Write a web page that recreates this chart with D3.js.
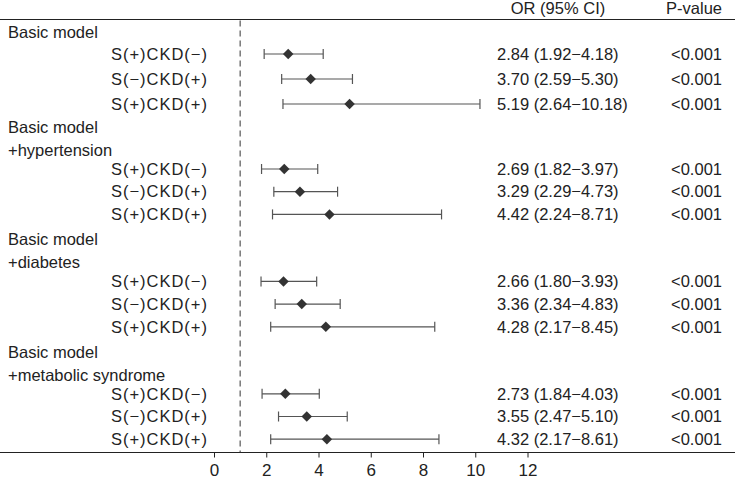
<!DOCTYPE html>
<html>
<head>
<meta charset="utf-8">
<script src="https://cdn.jsdelivr.net/npm/d3@7"></script>
<style>
  html, body { margin: 0; padding: 0; background: #fff; }
  svg { display: block; }
  text { font-family: "Liberation Sans", Arial, sans-serif; fill: #222; }
</style>
</head>
<body>
<svg id="chart" width="735" height="479"></svg>
<script>
// ---- data ----
const groupTitles = [
  ["Basic model"],
  ["Basic model", "+hypertension"],
  ["Basic model", "+diabetes"],
  ["Basic model", "+metabolic syndrome"]
];
const subgroups = ["S(+)CKD(−)", "S(−)CKD(+)", "S(+)CKD(+)"];
const orValues = [
  [2.84, 3.70, 5.19],
  [2.69, 3.29, 4.42],
  [2.66, 3.36, 4.28],
  [2.73, 3.55, 4.32]
];
const lowerCI = [
  [1.92, 2.59, 2.64],
  [1.82, 2.29, 2.24],
  [1.80, 2.34, 2.17],
  [1.84, 2.47, 2.17]
];
const upperCI = [
  [4.18, 5.30, 10.18],
  [3.97, 4.73, 8.71],
  [3.93, 4.83, 8.45],
  [4.03, 5.10, 8.61]
];
const orLabels = [
  ["2.84 (1.92−4.18)", "3.70 (2.59−5.30)", "5.19 (2.64−10.18)"],
  ["2.69 (1.82−3.97)", "3.29 (2.29−4.73)", "4.42 (2.24−8.71)"],
  ["2.66 (1.80−3.93)", "3.36 (2.34−4.83)", "4.28 (2.17−8.45)"],
  ["2.73 (1.84−4.03)", "3.55 (2.47−5.10)", "4.32 (2.17−8.61)"]
];
const pValues = [
  ["<0.001", "<0.001", "<0.001"],
  ["<0.001", "<0.001", "<0.001"],
  ["<0.001", "<0.001", "<0.001"],
  ["<0.001", "<0.001", "<0.001"]
];
const xTicks = [0, 2, 4, 6, 8, 10, 12];
const refValue = 1;
const headers = ["OR (95% CI)", "P-value"];

// ---- layout ----
const W = 735, H = 479;
const svg = d3.select("#chart");

// build line list with vertical advances
const lines = [];
let cy = 32, prev = null;
groupTitles.forEach((t, g) => {
  t.forEach(s => {
    if (prev) cy += (prev === "row") ? (g === 1 ? 23 : 25) : 23;
    lines.push({type: "head", text: s, y: cy});
    prev = "head";
  });
  subgroups.forEach((s, i) => {
    if (prev === "head") cy += (g === 0 ? 22 : 19);
    else cy += (g === 0 ? 25 : 22.7);
    lines.push({type: "row", g, i, text: s, y: cy});
    prev = "row";
  });
});
const x = d3.scaleLinear().domain([0, 12]).range([214, 527.5]);

const topLineY = 19.5, axisY = 452.5;
const fs = 16.5;

// header texts
svg.append("text").attr("x", 558).attr("y", 8).attr("dy", "0.35em")
  .attr("text-anchor", "middle").style("font-size", fs + "px").text(headers[0]);
svg.append("text").attr("x", 722).attr("y", 8).attr("dy", "0.35em")
  .attr("text-anchor", "end").style("font-size", fs + "px").text(headers[1]);

// top rule and bottom axis rule
svg.append("line").attr("x1", 0).attr("x2", W).attr("y1", topLineY).attr("y2", topLineY)
  .attr("stroke", "#222").attr("stroke-width", 1.2);
svg.append("line").attr("x1", 0).attr("x2", W).attr("y1", axisY).attr("y2", axisY)
  .attr("stroke", "#222").attr("stroke-width", 1.2);

// reference line
svg.append("line").attr("x1", x(refValue)).attr("x2", x(refValue))
  .attr("y1", topLineY + 1).attr("y2", axisY)
  .attr("stroke", "#333").attr("stroke-width", 1).attr("stroke-dasharray", "6,4");

// axis
const axis = d3.axisBottom(x).tickValues(xTicks).tickSize(5).tickPadding(6).tickFormat(d3.format("d"));
const ag = svg.append("g").attr("transform", `translate(0,${axisY})`).call(axis);
ag.select(".domain").remove();
ag.selectAll(".tick line").attr("stroke", "#222");
ag.selectAll(".tick text").style("font-size", "17px")
  .style("font-family", '"Liberation Sans Narrow", "Arial Narrow", "Liberation Sans", Arial, sans-serif')
  .attr("fill", "#222");

// left labels
lines.forEach(l => {
  const t = svg.append("text").attr("y", l.y).attr("dy", "0.35em").style("font-size", fs + "px");
  if (l.type === "head") {
    t.attr("x", 8).text(l.text);
  } else {
    t.attr("x", 208).attr("text-anchor", "end").style("letter-spacing", "1px").text(l.text);
  }
});

// forest marks
const rows = lines.filter(l => l.type === "row");
const capH = 5;
rows.forEach(r => {
  const yy = r.y;
  const lo = lowerCI[r.g][r.i], hi = upperCI[r.g][r.i], v = orValues[r.g][r.i];
  const g = svg.append("g");
  g.append("line").attr("x1", x(lo)).attr("x2", x(hi)).attr("y1", yy).attr("y2", yy)
    .attr("stroke", "#555").attr("stroke-width", 1.2);
  [lo, hi].forEach(c => g.append("line").attr("x1", x(c)).attr("x2", x(c))
    .attr("y1", yy - capH).attr("y2", yy + capH).attr("stroke", "#555").attr("stroke-width", 1.2));
  g.append("path").attr("d", d3.symbol(d3.symbolDiamond2, 70)())
    .attr("transform", `translate(${x(v)},${yy})`).attr("fill", "#333");
  svg.append("text").attr("x", 497).attr("y", yy).attr("dy", "0.35em")
    .style("font-size", fs + "px").text(orLabels[r.g][r.i]);
  svg.append("text").attr("x", 722).attr("y", yy).attr("dy", "0.35em")
    .attr("text-anchor", "end").style("font-size", fs + "px").text(pValues[r.g][r.i]);
});
</script>
</body>
</html>
